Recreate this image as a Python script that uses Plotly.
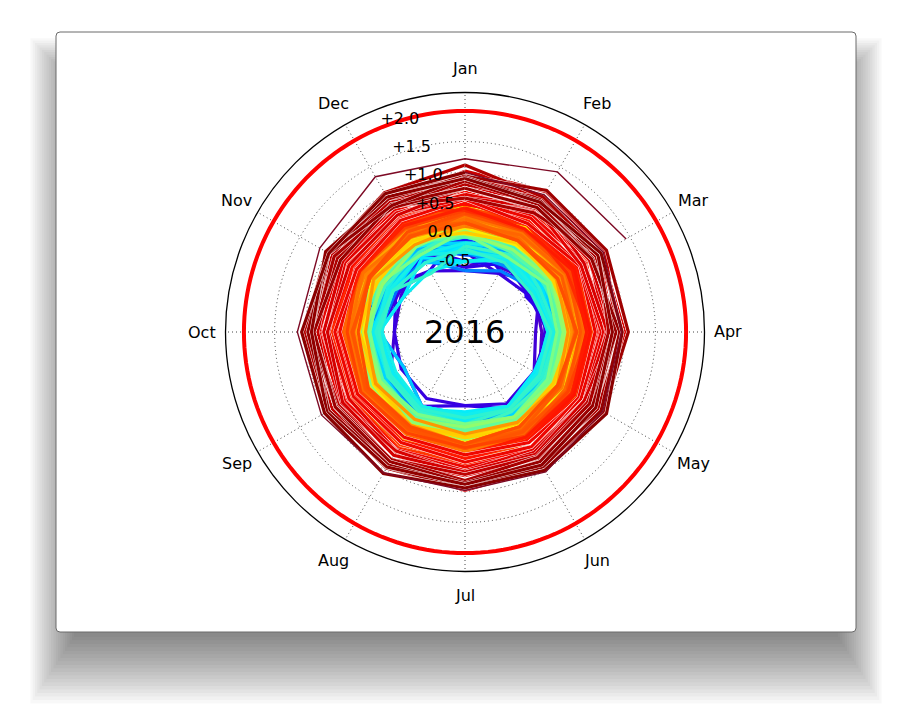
import math
import plotly.graph_objects as go

# ---------------- data (monthly anomalies, hundredths of a degree C, Jan..Dec) ----------------
months = ["Jan", "Feb", "Mar", "Apr", "May", "Jun", "Jul", "Aug", "Sep", "Oct", "Nov", "Dec"]
radial_ticks = [-0.5, 0.0, 0.5, 1.0, 1.5, 2.0]
radial_labels = ["-0.5", "0.0", "+0.5", "+1.0", "+1.5", "+2.0"]
limit_ring = 2.0
first_year = 1850
title_year = "2016"

d1850 = [
    [-55, -10, -30, -35, -20, -5, 5, -5, -15, -25, 5, -5],
    [-15, -25, 5, 0, 15, 10, 20, 15, 0, 20, 5, 25],
    [5, 15, -20, -5, 20, 10, 25, 5, 10, 0, -10, 30],
    [20, -20, 0, 15, 5, 10, 0, -10, -20, 0, -15, 15],
    [-25, 5, 0, -15, 10, 15, 5, 10, -5, -10, -20, 10],
    [10, -40, -10, 5, -5, 20, 10, 15, -10, 5, -10, 0],
    [-20, 10, -35, 0, -15, 5, 0, 10, -10, -15, -25, 20],
    [5, -35, -20, -45, -30, -15, -20, -10, -20, -45, -40, -15],
    [-30, -50, 0, -20, 0, -15, 5, -5, -25, -5, -30, 10],
    [10, 5, 25, 0, -15, 0, 5, 10, -10, -15, -20, 5],
]
d1860 = [
    [-25, 0, -35, -5, -20, -10, -10, 0, -20, -15, -45, -15],
    [-45, -15, -10, -30, -25, -10, -10, -5, -15, -20, -15, -45],
    [-60, -50, -40, -25, -30, -25, -40, -35, -40, -45, -30, -45],
    [15, 5, -15, -10, -20, -5, -10, 0, -10, -15, -15, -15],
    [-55, -30, -40, -20, -25, -15, -40, -20, -45, -20, -35, -20],
    [10, -45, -20, 5, 0, -10, 0, 5, 0, -5, -25, 10],
    [25, 5, -20, 5, -5, 10, 5, 0, -10, 0, -10, 15],
    [-10, 20, -45, -5, -15, 0, -5, -10, 5, 5, -15, 0],
    [-45, -20, 20, 5, 10, 5, 5, 0, -5, -15, 0, 15],
    [20, 30, -25, 10, -5, 0, -10, 5, 5, 0, -10, 5],
]
d1870 = [
    [5, -25, -20, 5, -5, 10, 5, 0, -5, -5, -20, -25],
    [-45, -35, 15, -10, -15, -5, 5, 0, -10, -5, 5, 15],
    [10, 20, -10, 10, 0, 10, -5, 5, 0, -5, 10, 5],
    [15, -25, 5, -10, 5, 0, 10, 5, -5, 5, -15, 15],
    [5, -20, -25, -10, -25, -10, -5, -15, -20, -15, -10, 0],
    [-25, -30, -30, -15, -20, -5, -15, -10, -25, -15, -25, -20],
    [0, -15, -20, -5, -10, -15, 0, -5, -15, -5, -20, 5],
    [-10, 10, 5, 20, 15, 25, 25, 35, 30, 40, 40, 35],
    [48, 63, 65, 55, 40, 35, 20, 20, 5, 10, -5, 5],
    [5, 10, -5, 0, -10, 0, 5, 0, -10, 5, 0, 10],
]
d1880 = [
    [15, 5, 10, -10, -5, -15, 5, -5, -5, -15, -10, -10],
    [0, 15, 20, 15, 25, 5, 15, 0, 0, -10, 5, 5],
    [25, 20, 20, -5, 0, -20, -5, 0, 5, -10, -5, -15],
    [-20, -25, 0, -10, 5, 5, 10, -10, 0, -15, -10, 5],
    [-20, 5, -10, -5, -15, -20, -20, -10, -20, -15, -30, -5],
    [-30, -15, -15, -20, -15, -10, -5, 0, -10, 0, -10, 0],
    [-20, -25, -5, -10, 0, -15, 5, -10, 5, -10, -15, 0],
    [-35, -15, -10, -10, -15, -10, -15, -5, -25, -15, -20, -5],
    [-20, -15, -30, 0, -10, -5, 0, 5, -5, 10, -5, 15],
    [0, 30, 20, 25, 15, 10, 5, 10, 0, 5, 0, 5],
]
d1890 = [
    [-20, 0, -15, -15, -25, -15, -15, -15, -25, -20, -30, -10],
    [-25, -20, -5, -10, -15, 0, -10, -5, -5, -10, -25, 0],
    [-25, -10, -35, -20, -25, -10, -20, -15, -15, -20, -25, -25],
    [-60, -45, -25, -15, -20, -10, -15, -5, -15, -10, -15, -15],
    [-30, 0, -15, -15, -20, -15, -10, -15, -20, -5, -15, -10],
    [-30, -35, -15, -5, -15, 0, -10, -5, -5, -15, -5, 0],
    [-15, 5, 0, 15, 5, 10, 15, 10, 5, 20, 10, 25],
    [5, 15, 0, 20, 10, 20, 5, 10, 10, 10, 5, 5],
    [-5, 5, -30, -15, -15, -10, -5, 0, -10, -10, -20, -5],
    [-15, -10, -10, 5, -5, 0, 5, 15, 10, 20, 15, 10],
]
d1900 = [
    [0, 15, 10, 20, 10, 20, 10, 10, 5, 20, 5, 5],
    [5, 5, 5, 15, 0, 10, -5, 5, -5, 0, -10, -5],
    [0, 10, -10, -10, -15, -10, -15, -10, -20, -15, -20, -15],
    [-20, 10, -15, -15, -25, -20, -20, -20, -45, -20, -25, -30],
    [-45, -20, -30, -25, -25, -20, -25, -20, -25, -10, -15, -15],
    [-25, -20, -10, -5, -10, -5, -5, 5, -10, -5, 5, 5],
    [-15, -5, -10, 10, -5, 10, 0, 10, -5, 0, 0, 10],
    [-30, -25, -15, -15, -20, -20, -20, -15, -20, -5, -25, -15],
    [-20, -15, -25, -20, -25, -10, -25, -20, -25, -20, -45, -20],
    [-45, -20, -30, -20, -30, -20, -30, -15, -20, -20, -25, -30],
]
d1910 = [
    [-20, -15, -20, -10, -25, -20, -15, -15, -25, -20, -45, -45],
    [-45, -25, -30, -25, -25, -20, -25, -20, -15, -10, -20, -15],
    [-15, 0, -20, -10, -15, -15, -20, -20, -30, -25, -20, -15],
    [-30, -20, -25, -15, -20, -15, -20, -10, -15, -15, -15, 0],
    [-5, -5, -5, 5, -5, 0, -5, 10, 0, 10, 5, 10],
    [0, 20, 0, 15, 5, 10, 10, 10, 5, 20, 10, 5],
    [-5, 0, -20, -10, -15, -15, -20, -15, -20, -15, -25, -30],
    [-25, -30, -35, -20, -20, -15, -10, -10, -15, -20, -25, -50],
    [-20, -15, 0, -5, -10, 0, 0, 0, -5, -5, 0, 5],
    [0, 5, -10, 5, -5, -10, 0, 5, 5, 0, -10, -10],
]
d1920 = [
    [10, 0, 5, 10, -5, 0, 5, -5, 0, 5, -5, 5],
    [20, 5, 5, 10, 5, 15, 10, 5, 10, 15, 0, 5],
    [0, -5, 10, 0, -5, 5, 0, -5, 5, 0, 0, 5],
    [5, -10, 0, -5, 0, 5, -5, 0, 0, 10, 15, 5],
    [10, -5, 5, -5, 0, 5, -5, 0, -5, 0, 0, 10],
    [-5, 5, 10, 0, 10, 5, 0, 10, 15, 10, 20, 15],
    [30, 25, 25, 10, 15, 20, 15, 20, 15, 15, 20, 5],
    [15, 5, 0, 5, 10, 10, 5, 15, 10, 20, 10, 0],
    [20, 10, 0, 5, 0, 5, 10, 15, 5, 10, 15, 10],
    [0, -20, -5, -10, -5, 0, -10, -5, 0, -5, 0, -15],
]
d1930 = [
    [5, 10, 20, 10, 15, 10, 15, 20, 15, 25, 30, 15],
    [25, 15, 15, 25, 15, 25, 30, 20, 20, 20, 15, 20],
    [30, 5, 15, 15, 20, 10, 15, 10, 20, 15, 5, 15],
    [0, -5, 5, 0, 5, 0, -5, 5, 0, 5, -5, 0],
    [15, 10, 20, 15, 25, 20, 15, 20, 10, 20, 20, 15],
    [15, 25, 5, 5, 10, 15, 10, 5, 10, 15, 5, 10],
    [5, 5, 10, 20, 15, 15, 20, 15, 20, 25, 20, 25],
    [20, 25, 15, 25, 30, 30, 35, 30, 30, 35, 30, 25],
    [35, 35, 40, 30, 30, 25, 30, 30, 30, 40, 35, 25],
    [30, 30, 25, 20, 25, 30, 30, 35, 30, 25, 35, 45],
]
d1940 = [
    [25, 40, 30, 35, 35, 30, 40, 35, 35, 40, 35, 30],
    [30, 35, 30, 40, 35, 35, 40, 35, 35, 45, 30, 30],
    [45, 30, 35, 30, 35, 40, 30, 30, 35, 35, 40, 30],
    [35, 40, 30, 35, 35, 35, 40, 40, 45, 50, 40, 45],
    [50, 45, 45, 45, 50, 45, 50, 50, 55, 55, 50, 45],
    [45, 35, 35, 40, 35, 40, 45, 50, 45, 35, 30, 20],
    [30, 35, 25, 25, 20, 25, 25, 20, 25, 25, 25, 30],
    [25, 20, 25, 30, 25, 25, 25, 25, 20, 30, 25, 15],
    [30, 20, 15, 25, 25, 25, 25, 25, 25, 25, 25, 25],
    [25, 20, 25, 25, 25, 20, 20, 20, 25, 25, 20, 25],
]
d1950 = [
    [0, 12, 18, 8, 20, 14, 10, 22, 12, 5, 15, 8],
    [10, 4, 18, 26, 20, 28, 22, 30, 36, 24, 34, 28],
    [36, 26, 28, 32, 35, 24, 40, 33, 38, 25, 34, 28],
    [44, 38, 46, 40, 34, 44, 32, 38, 30, 45, 33, 38],
    [12, 25, 14, 18, 8, 20, 12, 16, 26, 18, 24, 10],
    [26, 12, 6, 18, 14, 22, 12, 16, 10, 20, 4, 12],
    [2, 8, 10, 14, 6, 12, 8, 16, 6, 12, 10, 18],
    [16, 28, 22, 32, 28, 38, 33, 42, 40, 44, 37, 48],
    [60, 48, 42, 38, 44, 36, 42, 33, 38, 35, 40, 30],
    [44, 32, 46, 38, 36, 33, 40, 30, 38, 26, 34, 36],
]
d1960 = [
    [22, 32, 14, 26, 28, 34, 26, 32, 30, 34, 22, 34],
    [36, 44, 34, 42, 33, 38, 36, 34, 38, 32, 36, 26],
    [38, 34, 36, 32, 38, 33, 36, 30, 36, 28, 34, 30],
    [28, 44, 26, 30, 32, 36, 42, 44, 38, 46, 42, 34],
    [24, 16, 12, 8, 14, 10, 6, 4, 8, 2, 12, 4],
    [14, 12, 18, 14, 22, 18, 22, 16, 22, 20, 24, 18],
    [18, 24, 26, 22, 18, 28, 24, 22, 28, 24, 18, 26],
    [24, 18, 32, 28, 34, 22, 30, 28, 32, 38, 28, 24],
    [12, 26, 28, 18, 22, 18, 22, 26, 24, 28, 22, 26],
    [28, 26, 38, 42, 38, 34, 36, 38, 32, 36, 42, 44],
]
d1970 = [
    [42, 46, 32, 36, 28, 36, 30, 28, 32, 28, 32, 22],
    [24, 16, 14, 22, 18, 22, 26, 24, 28, 24, 18, 22],
    [18, 22, 30, 32, 28, 32, 30, 36, 34, 38, 36, 42],
    [50, 54, 52, 48, 52, 48, 44, 46, 40, 42, 38, 34],
    [18, 12, 22, 20, 18, 26, 22, 24, 28, 22, 20, 18],
    [32, 30, 34, 28, 32, 28, 30, 22, 26, 24, 18, 20],
    [18, 12, 14, 22, 14, 18, 22, 18, 22, 14, 20, 28],
    [34, 42, 48, 50, 52, 48, 52, 50, 44, 42, 52, 44],
    [42, 44, 38, 40, 34, 36, 28, 30, 36, 32, 42, 36],
    [38, 32, 42, 40, 42, 44, 46, 52, 48, 52, 56, 64],
]
d1980 = [
    [48, 58, 48, 56, 54, 56, 52, 58, 54, 56, 62, 52],
    [74, 66, 68, 58, 54, 62, 58, 62, 58, 52, 56, 68],
    [38, 42, 32, 42, 40, 38, 42, 38, 46, 44, 52, 58],
    [68, 66, 64, 62, 66, 64, 58, 62, 60, 54, 62, 54],
    [52, 42, 46, 44, 52, 44, 46, 48, 44, 46, 38, 40],
    [42, 34, 42, 38, 42, 38, 40, 46, 44, 46, 40, 46],
    [52, 48, 46, 44, 46, 44, 48, 46, 42, 52, 48, 52],
    [54, 62, 52, 56, 62, 64, 68, 64, 66, 62, 66, 72],
    [78, 70, 76, 72, 70, 68, 72, 70, 68, 66, 58, 66],
    [48, 56, 54, 58, 54, 56, 62, 60, 58, 62, 54, 62],
]
d1990 = [
    [64, 66, 92, 82, 76, 70, 72, 68, 64, 76, 82, 74],
    [70, 78, 64, 76, 68, 76, 74, 72, 70, 64, 66, 62],
    [62, 58, 66, 54, 56, 48, 40, 38, 42, 44, 46, 52],
    [56, 54, 56, 52, 54, 56, 52, 48, 50, 52, 44, 50],
    [56, 44, 56, 62, 58, 66, 60, 62, 66, 70, 72, 68],
    [82, 92, 74, 76, 70, 76, 74, 82, 74, 78, 74, 62],
    [58, 72, 58, 66, 64, 62, 66, 64, 58, 62, 66, 64],
    [64, 72, 76, 70, 72, 76, 74, 82, 86, 88, 86, 86],
    [92, 106, 96, 100, 96, 96, 98, 92, 86, 84, 80, 84],
    [76, 86, 64, 72, 64, 66, 72, 64, 72, 70, 70, 76],
]
d2000 = [
    [58, 76, 74, 82, 64, 70, 68, 72, 70, 64, 58, 60],
    [74, 72, 86, 84, 86, 84, 88, 86, 84, 86, 92, 84],
    [102, 104, 104, 86, 86, 84, 88, 80, 86, 80, 86, 78],
    [96, 84, 84, 86, 84, 82, 92, 96, 90, 100, 90, 102],
    [90, 96, 84, 86, 70, 74, 72, 80, 78, 90, 96, 84],
    [96, 86, 96, 96, 94, 100, 94, 94, 100, 102, 100, 90],
    [80, 92, 84, 80, 78, 90, 90, 96, 96, 102, 96, 102],
    [112, 94, 94, 96, 90, 84, 86, 84, 84, 86, 80, 78],
    [58, 64, 92, 74, 74, 76, 82, 80, 82, 86, 86, 76],
    [86, 80, 80, 86, 84, 92, 96, 96, 96, 90, 96, 90],
]
d2010 = [
    [94, 106, 106, 106, 100, 94, 96, 94, 84, 90, 100, 74],
    [74, 74, 80, 86, 80, 84, 86, 84, 84, 86, 74, 80],
    [74, 74, 78, 92, 96, 94, 90, 90, 96, 96, 96, 78],
    [92, 86, 90, 80, 86, 90, 88, 94, 100, 90, 102, 94],
    [90, 84, 96, 96, 106, 100, 94, 106, 104, 106, 96, 100],
    [100, 98, 100, 95, 99, 103, 98, 105, 110, 113, 113, 132],
]
y2016 = [122, 141, 143]

# ---------------- build ----------------
decades = [d1850, d1860, d1870, d1880, d1890, d1900, d1910, d1920, d1930,
           d1940, d1950, d1960, d1970, d1980, d1990, d2000, d2010]
rows = [row for d in decades for row in d]          # 1850 .. 2015
n_years = len(rows) + 1                              # incl. 2016
month_theta = [i * 30 for i in range(12)]

stops = [(0.00, (80, 0, 200)), (0.12, (40, 0, 240)), (0.20, (0, 60, 255)),
         (0.35, (0, 235, 255)), (0.48, (125, 255, 130)), (0.61, (255, 235, 0)),
         (0.71, (255, 125, 0)), (0.83, (255, 10, 0)), (0.90, (215, 0, 0)),
         (1.00, (128, 0, 0))]


def cmap(t):
    for (t0, c0), (t1, c1) in zip(stops[:-1], stops[1:]):
        if t <= t1:
            f = (t - t0) / (t1 - t0)
            c = [round(a + (b - a) * f) for a, b in zip(c0, c1)]
            return "rgb(%d,%d,%d)" % tuple(c)
    return "rgb(%d,%d,%d)" % stops[-1][1]


fig = go.Figure()
for i in range(len(rows) - 1):                       # 1850 .. 2014, thick
    r = [v / 100 for v in rows[i]] + [rows[i + 1][0] / 100]
    th = month_theta + [360]
    col = cmap(i / (n_years - 1))
    if first_year + i >= 1990:
        fig.add_trace(go.Scatterpolar(r=r, theta=th, mode="lines",
                                      line=dict(color="white", width=4.0),
                                      hoverinfo="skip", showlegend=False))
    fig.add_trace(go.Scatterpolar(r=r, theta=th, mode="lines",
                                  line=dict(color=col, width=3.2),
                                  name=str(first_year + i), showlegend=False))

# latest stretch 2015 -> Mar 2016, thin
r_last = [v / 100 for v in rows[-1]] + [v / 100 for v in y2016]
th_last = month_theta + [360 + 30 * k for k in range(len(y2016))]
fig.add_trace(go.Scatterpolar(r=r_last, theta=th_last, mode="lines",
                              line=dict(color="#7d0a25", width=1.4),
                              showlegend=False))

# 2 degree ring
ring_theta = list(range(0, 361, 2))
fig.add_trace(go.Scatterpolar(r=[limit_ring] * len(ring_theta), theta=ring_theta,
                              mode="lines", line=dict(color="#ff0000", width=4),
                              hoverinfo="skip", showlegend=False))

# radial tick labels
fig.add_trace(go.Scatterpolar(r=radial_ticks, theta=[337.5] * len(radial_ticks),
                              mode="text", text=radial_labels, textposition="top right",
                              textfont=dict(family="DejaVu Sans", size=16, color="black"),
                              hoverinfo="skip", showlegend=False, cliponaxis=False))

rmin, rmax = -1.6, 2.3
W, H = 912, 712
cx, cy, R = 465, 332, 239.5

annotations = [dict(text=title_year, x=cx / W, y=1 - cy / H, xref="paper", yref="paper",
                    showarrow=False, xanchor="center", yanchor="middle",
                    font=dict(family="DejaVu Sans", size=32, color="black"))]
# month labels placed at 1.1 x outer radius
for th, m in zip(month_theta, months):
    a = math.radians(th)
    px = cx + 1.1 * R * math.sin(a)
    py = cy - 1.1 * R * math.cos(a)
    annotations.append(dict(text=m, x=px / W, y=1 - py / H, xref="paper", yref="paper",
                            showarrow=False, xanchor="center", yanchor="middle",
                            font=dict(family="DejaVu Sans", size=16, color="black")))

# card with soft drop shadow
shapes = []
x0, y0, x1, y1 = 56, 32, 856, 632
sx0, sy0, sx1, sy1 = x0 + 18, y0 + 50, x1 - 18, y1 + 5
for k in range(20):
    sh = 2.3 * k
    sd = 3.5 * k
    shapes.append(dict(type="rect", xref="paper", yref="paper", layer="below",
                       x0=(sx0 - sh) / W, x1=(sx1 + sh) / W,
                       y0=1 - (sy1 + sd) / H, y1=1 - (sy0 - sh) / H,
                       line=dict(width=0), fillcolor="rgba(0,0,0,0.026)"))
rc = 4
path = ("M {a},{b} L {c},{b} Q {x1},{b} {x1},{d} L {x1},{e} Q {x1},{f} {c},{f} "
        "L {a},{f} Q {x0},{f} {x0},{e} L {x0},{d} Q {x0},{b} {a},{b} Z").format(
    a=(x0 + rc) / W, c=(x1 - rc) / W, x0=x0 / W, x1=x1 / W,
    b=1 - y0 / H, d=1 - (y0 + rc) / H, e=1 - (y1 - rc) / H, f=1 - y1 / H)
shapes.append(dict(type="path", xref="paper", yref="paper", layer="below", path=path,
                   fillcolor="white", line=dict(color="#6a6a6a", width=1)))

fig.update_layout(
    width=W, height=H, margin=dict(l=0, r=0, t=0, b=0),
    paper_bgcolor="white", plot_bgcolor="white", showlegend=False,
    shapes=shapes, annotations=annotations,
    polar=dict(
        domain=dict(x=[(cx - R) / W, (cx + R) / W], y=[(H - cy - R) / H, (H - cy + R) / H]),
        bgcolor="rgba(255,255,255,0)",
        angularaxis=dict(direction="clockwise", rotation=90, tickmode="array",
                         tickvals=month_theta, showticklabels=False, ticks="",
                         showgrid=True, gridcolor="#444", gridwidth=1, griddash="1px,3px",
                         showline=True, linecolor="black", linewidth=1.3),
        radialaxis=dict(range=[rmin, rmax], tickmode="array", tickvals=radial_ticks,
                        showticklabels=False, ticks="", showline=False,
                        showgrid=True, gridcolor="#444", gridwidth=1, griddash="1px,3px"),
    ),
)
fig.write_html("out.html")
